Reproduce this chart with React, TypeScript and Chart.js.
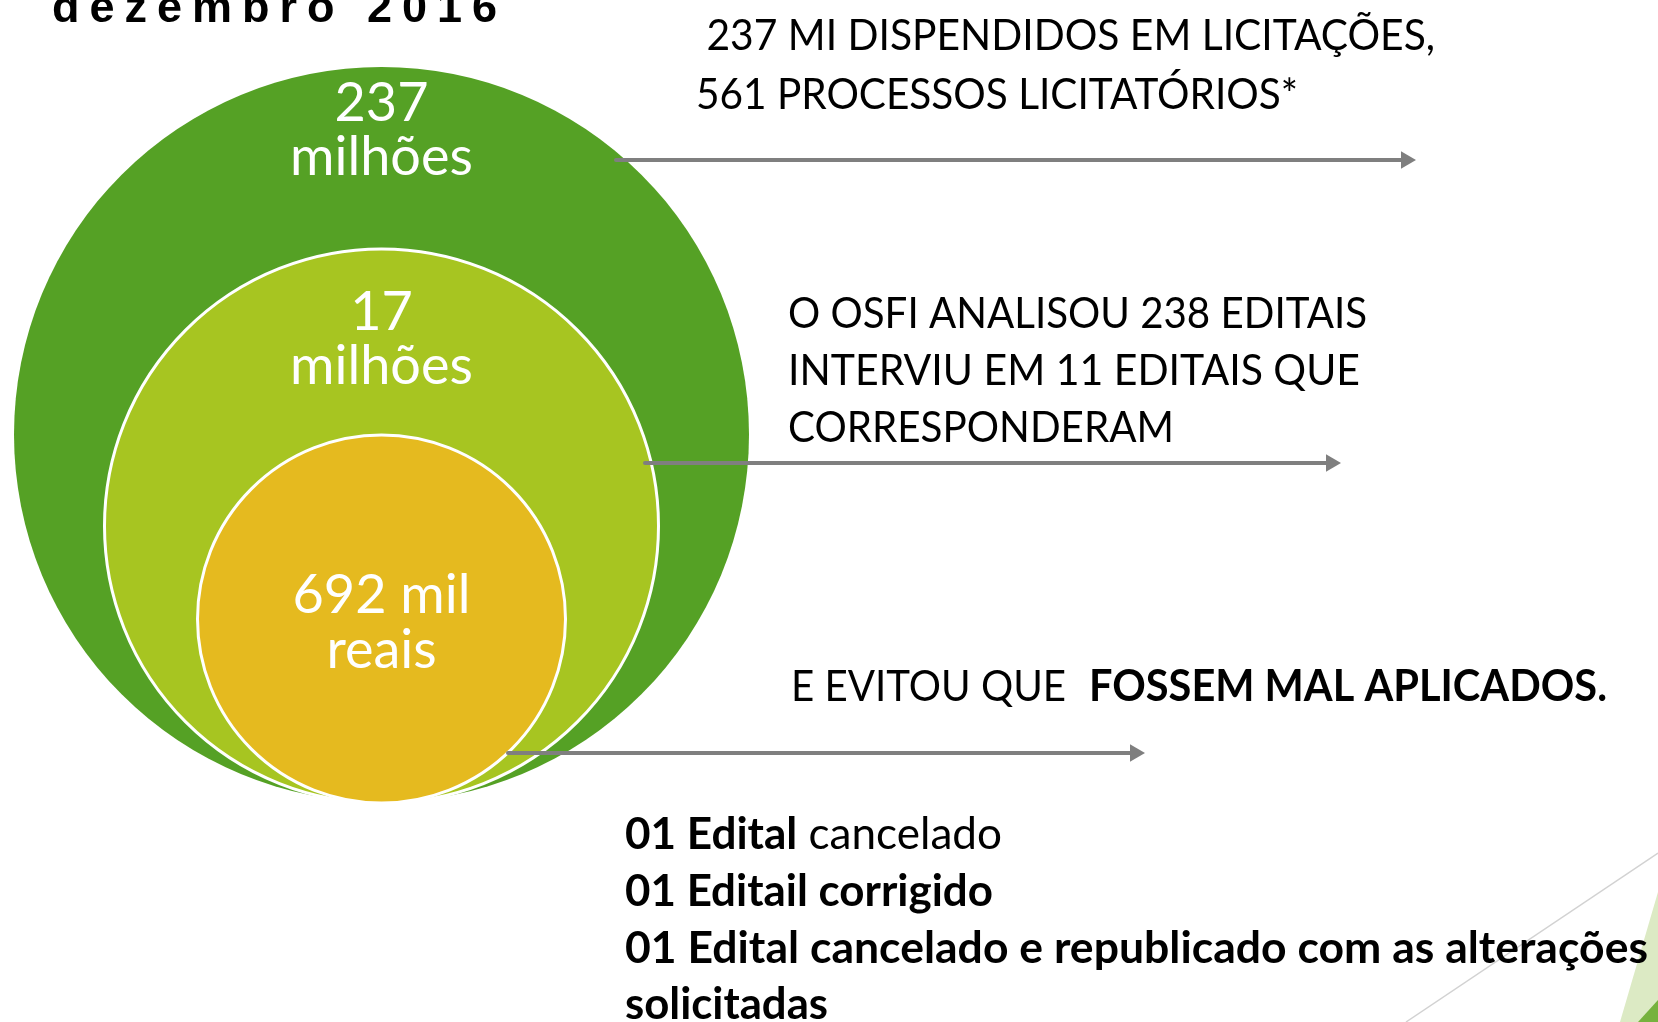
import React, { useEffect, useRef } from "react";
import { Chart, registerables } from "chart.js";

Chart.register(...registerables);

// ---------- DATA ----------
const circleValuesMillions = [237, 17, 0.692];
const circleLabelTop = ["237", "17", "692 mil"];
const circleLabelBottom = ["milhões", "milhões", "reais"];
const headerText = "dezembro 2016";
const callout1 = [" 237 MI DISPENDIDOS EM LICITAÇÕES,", "561 PROCESSOS LICITATÓRIOS*"];
const callout2 = ["O OSFI ANALISOU 238 EDITAIS", "INTERVIU EM 11 EDITAIS QUE", "CORRESPONDERAM"];
const callout3Normal = "E EVITOU QUE";
const callout3Bold = "FOSSEM MAL APLICADOS.";
const resultBold = ["01 Edital", "01 Editail corrigido", "01 Edital cancelado e republicado com as alterações", "solicitadas"];
const resultNormal = [" cancelado", "", "", ""];

// ---------- LAYOUT ----------
const W = 1658;
const H = 1022;
const circleGeom = [
  { cx: 381.5, cy: 434.5, r: 367.5 },
  { cx: 381.5, cy: 526, r: 277 },
  { cx: 381.5, cy: 619, r: 184 },
];
const circleColors = ["#55A125", "#A7C521", "#E5BA1F"];
const circleBorderWidths = [0, 3, 3];
const labelBaselines = [
  [121, 175],
  [330, 384],
  [613, 668],
];
const arrowGeom = [
  { y: 160, x0: 616, x1: 1416 },
  { y: 463, x0: 645, x1: 1341 },
  { y: 753, x0: 508, x1: 1145 },
];
const ARROW_HEAD = 10;
const ARROW_COLOR = "#7F7F7F";

const FONT = "Lato, 'Open Sans', sans-serif";

type Seg = { text: string; bold: boolean };

function drawFitted(
  ctx: CanvasRenderingContext2D,
  segs: Seg[],
  x: number,
  y: number,
  width: number,
  size: number,
  color: string
) {
  let total = 0;
  const widths = segs.map((s) => {
    ctx.font = `${s.bold ? "700" : "400"} ${size}px ${FONT}`;
    const w = ctx.measureText(s.text).width;
    total += w;
    return w;
  });
  const sx = width / total;
  ctx.save();
  ctx.translate(x, y);
  ctx.scale(sx, 1);
  ctx.fillStyle = color;
  ctx.textAlign = "left";
  ctx.textBaseline = "alphabetic";
  let cx = 0;
  segs.forEach((s, i) => {
    ctx.font = `${s.bold ? "700" : "400"} ${size}px ${FONT}`;
    ctx.fillText(s.text, cx, 0);
    cx += widths[i];
  });
  ctx.restore();
}

const decorPlugin = {
  id: "decor",
  beforeDatasetsDraw(chart: any) {
    const ctx: CanvasRenderingContext2D = chart.ctx;
    ctx.save();
    ctx.fillStyle = "#DCEAC4";
    ctx.beginPath();
    ctx.moveTo(1620, 1022);
    ctx.lineTo(1658, 892);
    ctx.lineTo(1658, 1022);
    ctx.closePath();
    ctx.fill();
    ctx.fillStyle = "#76B23E";
    ctx.beginPath();
    ctx.moveTo(1638, 1022);
    ctx.lineTo(1658, 1000);
    ctx.lineTo(1658, 1022);
    ctx.closePath();
    ctx.fill();
    ctx.strokeStyle = "#D2D2D2";
    ctx.lineWidth = 1.5;
    ctx.beginPath();
    ctx.moveTo(1406, 1022);
    ctx.lineTo(1658, 853);
    ctx.stroke();
    ctx.restore();
  },
};

const textPlugin = {
  id: "texts",
  afterDatasetsDraw(chart: any) {
    const ctx: CanvasRenderingContext2D = chart.ctx;
    ctx.save();

    // header
    ctx.font = `700 45px 'Liberation Sans', Arial, sans-serif`;
    (ctx as any).letterSpacing = "10px";
    ctx.fillStyle = "#000";
    ctx.textAlign = "left";
    ctx.textBaseline = "alphabetic";
    ctx.fillText(headerText, 52, 22);
    (ctx as any).letterSpacing = "0px";

    // circle labels
    const meta = chart.getDatasetMeta(3);
    meta.data.forEach((el: any, i: number) => {
      ctx.fillStyle = "#FFFFFF";
      ctx.textAlign = "center";
      ctx.font = `400 54px ${FONT}`;
      ctx.fillText(circleLabelTop[i], el.x, labelBaselines[i][0]);
      ctx.fillText(circleLabelBottom[i], el.x, labelBaselines[i][1]);
    });

    const black = "#000000";
    // callout 1
    drawFitted(ctx, [{ text: callout1[0], bold: false }], 696, 50, 739, 43, black);
    drawFitted(ctx, [{ text: callout1[1], bold: false }], 696, 109, 602, 43, black);
    // callout 2
    const c2w = [579, 572, 386];
    const c2y = [328, 385, 442];
    callout2.forEach((t, i) => drawFitted(ctx, [{ text: t, bold: false }], 788, c2y[i], c2w[i], 43, black));
    // callout 3
    drawFitted(ctx, [{ text: callout3Normal, bold: false }], 791, 701, 275, 43, black);
    drawFitted(ctx, [{ text: callout3Bold, bold: true }], 1089, 701, 518, 43, black);
    // results
    const rw = [377, 368, 1023, 203];
    const ry = [849, 906, 963, 1019];
    resultBold.forEach((t, i) => {
      const segs: Seg[] = [{ text: t, bold: true }];
      if (resultNormal[i]) segs.push({ text: resultNormal[i], bold: false });
      drawFitted(ctx, segs, 625, ry[i], rw[i], 44, black);
    });
    ctx.restore();
  },
};

export default function App() {
  const ref = useRef<HTMLCanvasElement | null>(null);
  useEffect(() => {
    if (!ref.current) return;
    const arrowDatasets = arrowGeom.map((a) => ({
      type: "line" as const,
      label: "arrow",
      data: [
        { x: a.x0, y: a.y },
        { x: a.x1 - ARROW_HEAD, y: a.y },
      ],
      borderColor: ARROW_COLOR,
      borderWidth: 4,
      borderCapStyle: "round" as const,
      pointRadius: [0, ARROW_HEAD],
      pointStyle: "triangle" as const,
      pointRotation: 90,
      pointBackgroundColor: ARROW_COLOR,
      pointBorderColor: ARROW_COLOR,
      pointBorderWidth: 0,
      order: 1,
      clip: false as any,
    }));
    const chart = new Chart(ref.current, {
      type: "bubble",
      data: {
        datasets: [
          ...(arrowDatasets as any[]),
          {
            type: "bubble",
            label: "Valores (milhões de reais)",
            data: circleValuesMillions.map((v, i) => ({
              x: circleGeom[i].cx,
              y: circleGeom[i].cy,
              r: circleGeom[i].r,
              v,
            })),
            backgroundColor: circleColors,
            borderColor: "#FFFFFF",
            borderWidth: circleBorderWidths,
            order: 2,
            clip: false as any,
          } as any,
        ],
      },
      options: {
        animation: false,
        responsive: false,
        events: [],
        layout: { padding: 0, autoPadding: false },
        scales: {
          x: { type: "linear", min: 0, max: W, display: false },
          y: { type: "linear", min: 0, max: H, reverse: true, display: false },
        },
        plugins: {
          legend: { display: false },
          tooltip: { enabled: false },
        },
      },
      plugins: [decorPlugin, textPlugin],
    });
    return () => chart.destroy();
  }, []);
  return (
    <div style={{ position: "absolute", left: 0, top: 0, width: W, height: H, background: "#fff" }}>
      <canvas ref={ref} width={W} height={H} style={{ display: "block" }} />
    </div>
  );
}
